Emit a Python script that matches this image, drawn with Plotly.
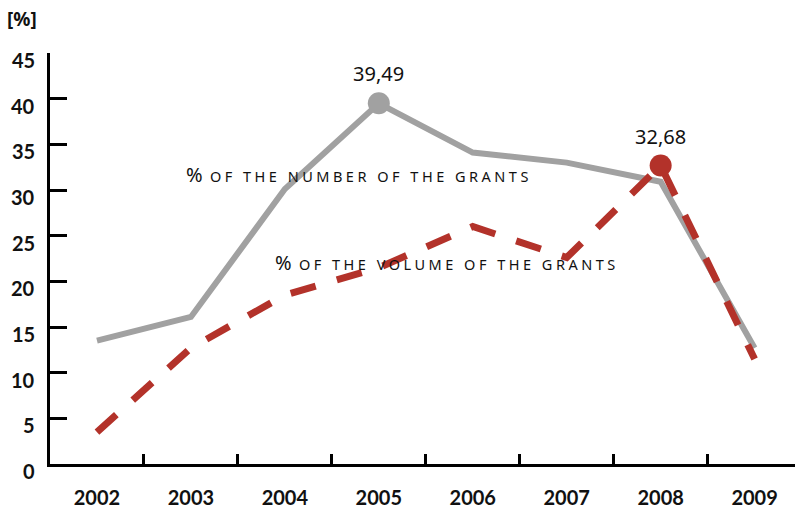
import plotly.graph_objects as go

# Share of grants by year, in percent
years = ["2002", "2003", "2004", "2005", "2006", "2007", "2008", "2009"]
share_number = [13.5, 16.1, 30.1, 39.49, 34.1, 33.0, 30.9, 12.7]
share_volume = [3.5, 12.7, 18.5, 21.5, 26.0, 22.6, 32.68, 11.5]

y_tick_vals = [0, 5, 10, 15, 20, 25, 30, 35, 40, 45]

label_number = "OF THE NUMBER OF THE GRANTS"
label_volume = "OF THE VOLUME OF THE GRANTS"

GRAY = "#a1a1a1"
RED = "#b3322a"
INK = "#111111"

peak_number = share_number.index(max(share_number))
peak_volume = share_volume.index(max(share_volume))


def fmt(v):
    return f"{v:.2f}".replace(".", ",")


fig = go.Figure()

fig.add_trace(go.Scatter(
    x=years, y=share_number, mode="lines",
    line=dict(color=GRAY, width=6), hoverinfo="skip",
))
fig.add_trace(go.Scatter(
    x=years, y=share_volume, mode="lines",
    line=dict(color=RED, width=7, dash="26px,22px"), hoverinfo="skip",
))
fig.add_trace(go.Scatter(
    x=[years[peak_number]], y=[share_number[peak_number]], mode="markers",
    marker=dict(color=GRAY, size=22), hoverinfo="skip",
))
fig.add_trace(go.Scatter(
    x=[years[peak_volume]], y=[share_volume[peak_volume]], mode="markers",
    marker=dict(color=RED, size=22), hoverinfo="skip",
))

annotations = []
# value labels above the highlighted points (category index on the x axis)
for idx, series in ((peak_number, share_number), (peak_volume, share_volume)):
    annotations.append(dict(
        x=idx, y=series[idx], text=fmt(series[idx]),
        showarrow=False, yanchor="bottom", yshift=14,
        font=dict(family="Noto Sans", size=20, color=INK),
    ))


def series_label(text):
    return ('<span style="font-size:20px">%</span>'
            '<span style="letter-spacing:3.5px"> ' + text + '</span>')


annotations.append(dict(
    x=0.93, y=31.75, text=series_label(label_number), showarrow=False,
    xanchor="left", yanchor="middle",
    font=dict(family="Noto Sans", size=14.5, color=INK),
))
annotations.append(dict(
    x=1.87, y=22.1, text=series_label(label_volume), showarrow=False,
    xanchor="left", yanchor="middle",
    font=dict(family="Noto Sans", size=14.5, color=INK),
))
annotations.append(dict(
    x=-0.06, y=1.083, xref="paper", yref="paper", text="<b>[%]</b>",
    showarrow=False, xanchor="left", yanchor="middle",
    font=dict(family="Noto Sans", size=19, color=INK),
))

# y tick labels, set slightly below their tick marks
for v in y_tick_vals:
    annotations.append(dict(
        x=0, xref="paper", y=v, yref="y", text=str(v),
        showarrow=False, xanchor="right", yanchor="middle",
        xshift=-13, yshift=-7,
        font=dict(family="Lato", size=20, color=INK, weight="bold"),
    ))

fig.update_layout(
    width=795, height=509,
    margin=dict(l=50, r=0, t=53, b=45),
    paper_bgcolor="white", plot_bgcolor="white",
    showlegend=False,
    annotations=annotations,
    xaxis=dict(
        type="category", range=[-0.5, 7.43],
        showline=True, linecolor="black", linewidth=3,
        ticks="inside", tickson="boundaries", ticklen=10, tickwidth=2.5,
        tickcolor="black", showgrid=False, zeroline=False,
        tickfont=dict(family="Lato", size=20, color=INK, weight="bold"),
        ticklabelstandoff=14,
    ),
    yaxis=dict(
        range=[0, 45], tickvals=y_tick_vals, showticklabels=False,
        showline=True, linecolor="black", linewidth=3,
        ticks="inside", ticklen=17, tickwidth=3, tickcolor="black",
        showgrid=False, zeroline=False,
    ),
)

fig.write_html("out.html")
